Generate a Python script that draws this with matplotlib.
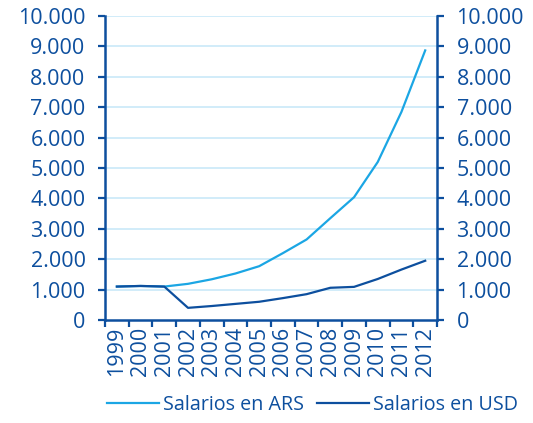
import matplotlib
matplotlib.use('Agg')
import matplotlib.pyplot as plt
import numpy as np

years = ['1999', '2000', '2001', '2002', '2003', '2004', '2005', '2006',
         '2007', '2008', '2009', '2010', '2011', '2012']
salarios_ars = [1100, 1120, 1100, 1190, 1340, 1530, 1770, 2200,
                2650, 3350, 4040, 5200, 6850, 8870]
salarios_usd = [1100, 1120, 1100, 400, 460, 530, 600, 720,
                850, 1060, 1090, 1350, 1660, 1950]
yticks = [0, 1000, 2000, 3000, 4000, 5000, 6000, 7000, 8000, 9000, 10000]
ytick_labels = ['0', '1.000', '2.000', '3.000', '4.000', '5.000',
                '6.000', '7.000', '8.000', '9.000', '10.000']

dark = '#0d4f9e'
light = '#1ba6e4'
grid = '#c9e9f8'

plt.rcParams['font.family'] = ['Open Sans', 'DejaVu Sans']

fig = plt.figure(figsize=(5.33, 4.23), dpi=100)
ax = fig.add_axes([0.197, 0.2435, 0.623, 0.7185])

x = np.arange(len(years))
ax.plot(x, salarios_ars, color=light, lw=1.6, label='Salarios en ARS', zorder=3)
ax.plot(x, salarios_usd, color=dark, lw=1.6, label='Salarios en USD', zorder=4)

ax.set_xlim(-0.5, len(years) - 0.5)
ax.set_ylim(0, 10000)
ax.set_yticks(yticks)
ax.set_yticklabels(ytick_labels)
for v in yticks[1:]:
    ax.axhline(v, color=grid, lw=1.2, zorder=1)

ax.set_xticks(x)
ax.set_xticklabels(years, rotation=90)
ax.set_xticks(np.arange(-0.5, len(years)), minor=True)
ax.tick_params(axis='x', which='major', length=0, pad=5, labelsize=15.5, labelcolor=dark)
ax.tick_params(axis='x', which='minor', length=5, width=1.6, color=dark, direction='out')
ax.tick_params(axis='y', which='major', length=5, width=1.6, color=dark, direction='out',
               labelsize=15.5, labelcolor=dark, left=True, right=True,
               labelleft=True, labelright=True, pad=9)

for s in ['left', 'right', 'bottom']:
    ax.spines[s].set_color(dark)
    ax.spines[s].set_linewidth(1.8)
ax.spines['top'].set_visible(False)

fig.legend(loc='center', bbox_to_anchor=(0.587, 0.043), ncol=2, frameon=False,
           fontsize=14.2, labelcolor=dark, handlelength=2.6, handletextpad=0.25,
           columnspacing=0.65)

fig.savefig('out.png', dpi=100)
